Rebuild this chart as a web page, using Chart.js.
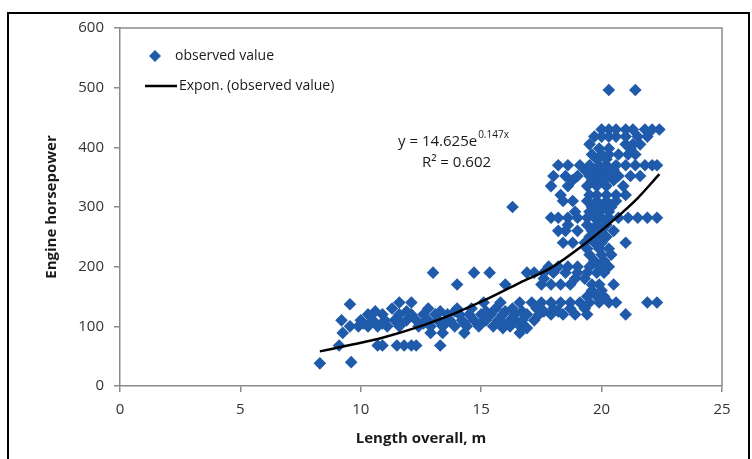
<!DOCTYPE html>
<html><head><meta charset="utf-8">
<script src="https://cdn.jsdelivr.net/npm/chart.js@4"></script>
<style>
html,body{margin:0;padding:0;background:#fff;}
#wrap{position:relative;width:752px;height:459px;overflow:hidden;background:#fff;}
#frame{position:absolute;left:7px;top:12px;width:743px;height:470px;border:2px solid #000;box-sizing:border-box;}
canvas{position:absolute;left:0;top:0;}
</style></head>
<body><div id="wrap"><div id="frame"></div><canvas id="c" width="752" height="459"></canvas></div>
<script>
// Observed values, grouped by engine horsepower level (hp) with the boat lengths (m) at that level
const hpLevels = [38, 40, 68, 89, 97, 100, 105, 110, 120, 125, 130, 137, 140, 150, 160, 170, 180, 190, 200, 210, 220, 230, 240, 250, 260, 270, 282, 292, 300, 310, 320, 335, 345, 352, 362, 370, 380, 388, 398, 405, 418, 430, 496];
const lengthRows = [
  [8.3],
  [9.6],
  [9.1, 10.7, 10.9, 11.5, 11.8, 12.1, 12.3, 13.3],
  [9.25, 12.9, 13.4, 14.3, 16.6],
  [15.9, 16.9],
  [9.55, 9.9, 10.3, 10.7, 11.1, 11.6, 12.4, 12.9, 13.4, 13.9, 14.4, 14.9, 15.5, 16.2, 16.8],
  [10.1, 10.9, 11.7, 12.6, 13.5, 14.3, 15.0, 15.9, 16.5],
  [9.2, 10.0, 10.5, 11.0, 11.4, 11.9, 12.3, 12.8, 13.2, 13.7, 14.2, 14.7, 15.2, 15.7, 16.2, 16.7, 17.2],
  [10.3, 10.9, 11.6, 12.1, 12.6, 13.1, 13.6, 14.1, 14.5, 15.0, 15.4, 15.9, 16.4, 16.9, 17.4, 17.9, 18.4, 18.9, 19.4, 21.0],
  [10.6, 11.9, 13.3, 13.9, 15.2, 16.0, 16.7, 17.6, 18.2],
  [11.3, 12.8, 14.0, 14.6, 15.6, 16.3, 17.3, 18.0, 18.7, 19.3],
  [9.55],
  [11.6, 12.1, 15.1, 15.8, 16.6, 17.1, 17.5, 17.9, 18.3, 18.7, 19.1, 19.5, 19.9, 20.3, 20.6, 21.9, 22.3],
  [19.4, 19.8, 20.1],
  [19.6, 20.0],
  [14.0, 16.0, 17.5, 17.9, 18.3, 18.7, 19.6, 19.9, 20.5],
  [17.6, 18.9, 19.3],
  [13.0, 14.7, 15.35, 16.9, 17.2, 17.6, 18.0, 18.5, 19.0, 19.4, 19.8, 20.1],
  [17.8, 18.2, 18.6, 19.0, 19.5, 19.9, 20.3],
  [19.7, 20.1],
  [19.5, 20.0, 20.4],
  [19.4, 19.9, 20.3],
  [18.4, 18.8, 19.3, 19.7, 20.0, 21.0],
  [19.5, 19.8, 20.2],
  [18.2, 18.5, 19.0, 19.6, 20.0, 20.5],
  [18.6, 19.4, 19.8, 20.2],
  [17.9, 18.2, 18.6, 19.0, 19.4, 19.7, 20.0, 20.3, 20.7, 21.1, 21.5, 21.9, 22.3],
  [18.9, 19.5, 19.9, 20.3],
  [16.3, 19.6, 20.0, 20.4],
  [18.4, 18.8, 19.4, 19.8, 20.2, 20.6],
  [18.3, 19.5, 19.8, 20.2, 20.6, 21.0],
  [17.9, 18.6, 19.4, 19.8, 20.2, 20.9],
  [18.8, 19.6, 20.0, 20.5],
  [18.0, 18.5, 19.0, 19.5, 19.9, 20.3, 20.7, 21.2, 21.6],
  [19.3, 19.7, 20.1, 20.5],
  [18.2, 18.6, 19.1, 19.5, 19.9, 20.2, 20.6, 21.0, 21.4, 21.8, 22.1, 22.3],
  [19.8, 20.2],
  [19.6, 20.0, 20.3, 20.7, 21.1, 21.4],
  [19.9, 20.3, 21.2],
  [19.5, 21.0, 21.3, 21.6],
  [19.7, 20.0, 20.3, 20.6, 21.0, 21.5, 21.9],
  [20.0, 20.3, 20.6, 21.0, 21.3, 21.8, 22.1, 22.4],
  [20.3, 21.4]
];
// Exponential trendline as drawn
const trendLength = [8.3, 9.6, 10.9, 12.4, 13.8, 15.2, 16.6, 17.9, 19.2, 20.5, 21.5, 22.4];
const trendHp     = [58, 69, 81, 99, 120, 145, 173, 198, 235, 278, 315, 355];
// Axis ticks
const xTicks = [0, 5, 10, 15, 20, 25];
const yTicks = [0, 100, 200, 300, 400, 500, 600];
// Texts
const seriesLabel = 'observed value';
const trendLabel = 'Expon. (observed value)';
const eqMain = 'y = 14.625e';
const eqExp = '0.147x';
const eqR2 = 'R\u00B2 = 0.602';

const scatterPts = [];
hpLevels.forEach((hp, i) => lengthRows[i].forEach(len => scatterPts.push({x: len, y: hp})));
const trendPts = trendLength.map((x, i) => ({x: x, y: trendHp[i]}));

const AXIS = '#8a8a8a';
const FONT = "'Open Sans', 'DejaVu Sans', sans-serif";
const BLUE = '#1F5BAA';

const boxPlugin = {
  id: 'box',
  afterDraw(chart) {
    const {ctx, chartArea: a} = chart;
    ctx.save();
    ctx.strokeStyle = AXIS; ctx.lineWidth = 1.5;
    ctx.beginPath();
    ctx.moveTo(a.left, a.top); ctx.lineTo(a.right, a.top); ctx.lineTo(a.right, a.bottom);
    ctx.stroke();
    ctx.restore();
  }
};

const legendPlugin = {
  id: 'insideLegend',
  afterDraw(chart) {
    const ctx = chart.ctx;
    const dsTrend = chart.data.datasets[0];
    const dsObs = chart.data.datasets[1];
    ctx.save();
    const cx = 155, cy = 56, r = 6;
    ctx.fillStyle = dsObs.backgroundColor;
    ctx.beginPath();
    ctx.moveTo(cx - r, cy); ctx.lineTo(cx, cy - r); ctx.lineTo(cx + r, cy); ctx.lineTo(cx, cy + r); ctx.closePath();
    ctx.fill();
    ctx.fillStyle = '#1a1a1a';
    ctx.font = '14px ' + FONT;
    ctx.textBaseline = 'middle'; ctx.textAlign = 'left';
    ctx.fillText(dsObs.label, 175, cy);
    ctx.strokeStyle = dsTrend.borderColor; ctx.lineWidth = dsTrend.borderWidth;
    ctx.beginPath(); ctx.moveTo(145, 86); ctx.lineTo(177, 86); ctx.stroke();
    ctx.fillText(dsTrend.label, 179, 86);
    ctx.restore();
  }
};

const eqPlugin = {
  id: 'equation',
  afterDraw(chart) {
    const ctx = chart.ctx;
    ctx.save();
    ctx.fillStyle = '#1a1a1a';
    ctx.textBaseline = 'middle'; ctx.textAlign = 'left';
    ctx.font = '15px ' + FONT;
    ctx.fillText(eqMain, 398, 142);
    const w = ctx.measureText(eqMain).width;
    ctx.font = '10px ' + FONT;
    ctx.fillText(eqExp, 398 + w + 1, 135);
    ctx.font = '15px ' + FONT;
    ctx.fillText(eqR2, 422, 163);
    ctx.restore();
  }
};

new Chart(document.getElementById('c').getContext('2d'), {
  type: 'scatter',
  data: {
    datasets: [
      {type: 'line', label: trendLabel, data: trendPts, borderColor: '#000', borderWidth: 2.5,
       pointRadius: 0, fill: false, cubicInterpolationMode: 'monotone', order: 0},
      {label: seriesLabel, data: scatterPts, pointStyle: 'rectRot', pointRadius: 6.3,
       backgroundColor: BLUE, borderColor: BLUE, borderWidth: 0, order: 1}
    ]
  },
  options: {
    responsive: false, animation: false, devicePixelRatio: 1,
    layout: {padding: {left: 0, top: 28, right: 30, bottom: 0}},
    plugins: {legend: {display: false}, tooltip: {enabled: false}},
    scales: {
      x: {
        type: 'linear', min: xTicks[0], max: xTicks[xTicks.length - 1],
        afterBuildTicks(s) { s.ticks = xTicks.map(v => ({value: v})); },
        ticks: {color: '#333', font: {family: FONT, size: 15}, padding: 9, maxRotation: 0},
        grid: {display: true, drawOnChartArea: false, drawTicks: true, tickLength: 6, color: AXIS, lineWidth: 1.5},
        border: {display: true, color: AXIS, width: 1.5},
        title: {display: true, text: 'Length overall, m', color: '#1a1a1a',
                font: {family: FONT, size: 15, weight: 'bold'}, padding: {top: 0, bottom: 11}},
        afterFit(s) { s.height = 73; }
      },
      y: {
        type: 'linear', min: yTicks[0], max: yTicks[yTicks.length - 1],
        afterBuildTicks(s) { s.ticks = yTicks.map(v => ({value: v})); },
        ticks: {color: '#333', font: {family: FONT, size: 15}, padding: 10},
        grid: {display: true, drawOnChartArea: false, drawTicks: true, tickLength: 6, color: AXIS, lineWidth: 1.5},
        border: {display: true, color: AXIS, width: 1.5},
        title: {display: true, text: 'Engine horsepower', color: '#1a1a1a',
                font: {family: FONT, size: 15, weight: 'bold'}, padding: {top: 43, bottom: 0}},
        afterFit(s) { s.width = 120; }
      }
    }
  },
  plugins: [boxPlugin, legendPlugin, eqPlugin]
});
</script>
</body></html>
